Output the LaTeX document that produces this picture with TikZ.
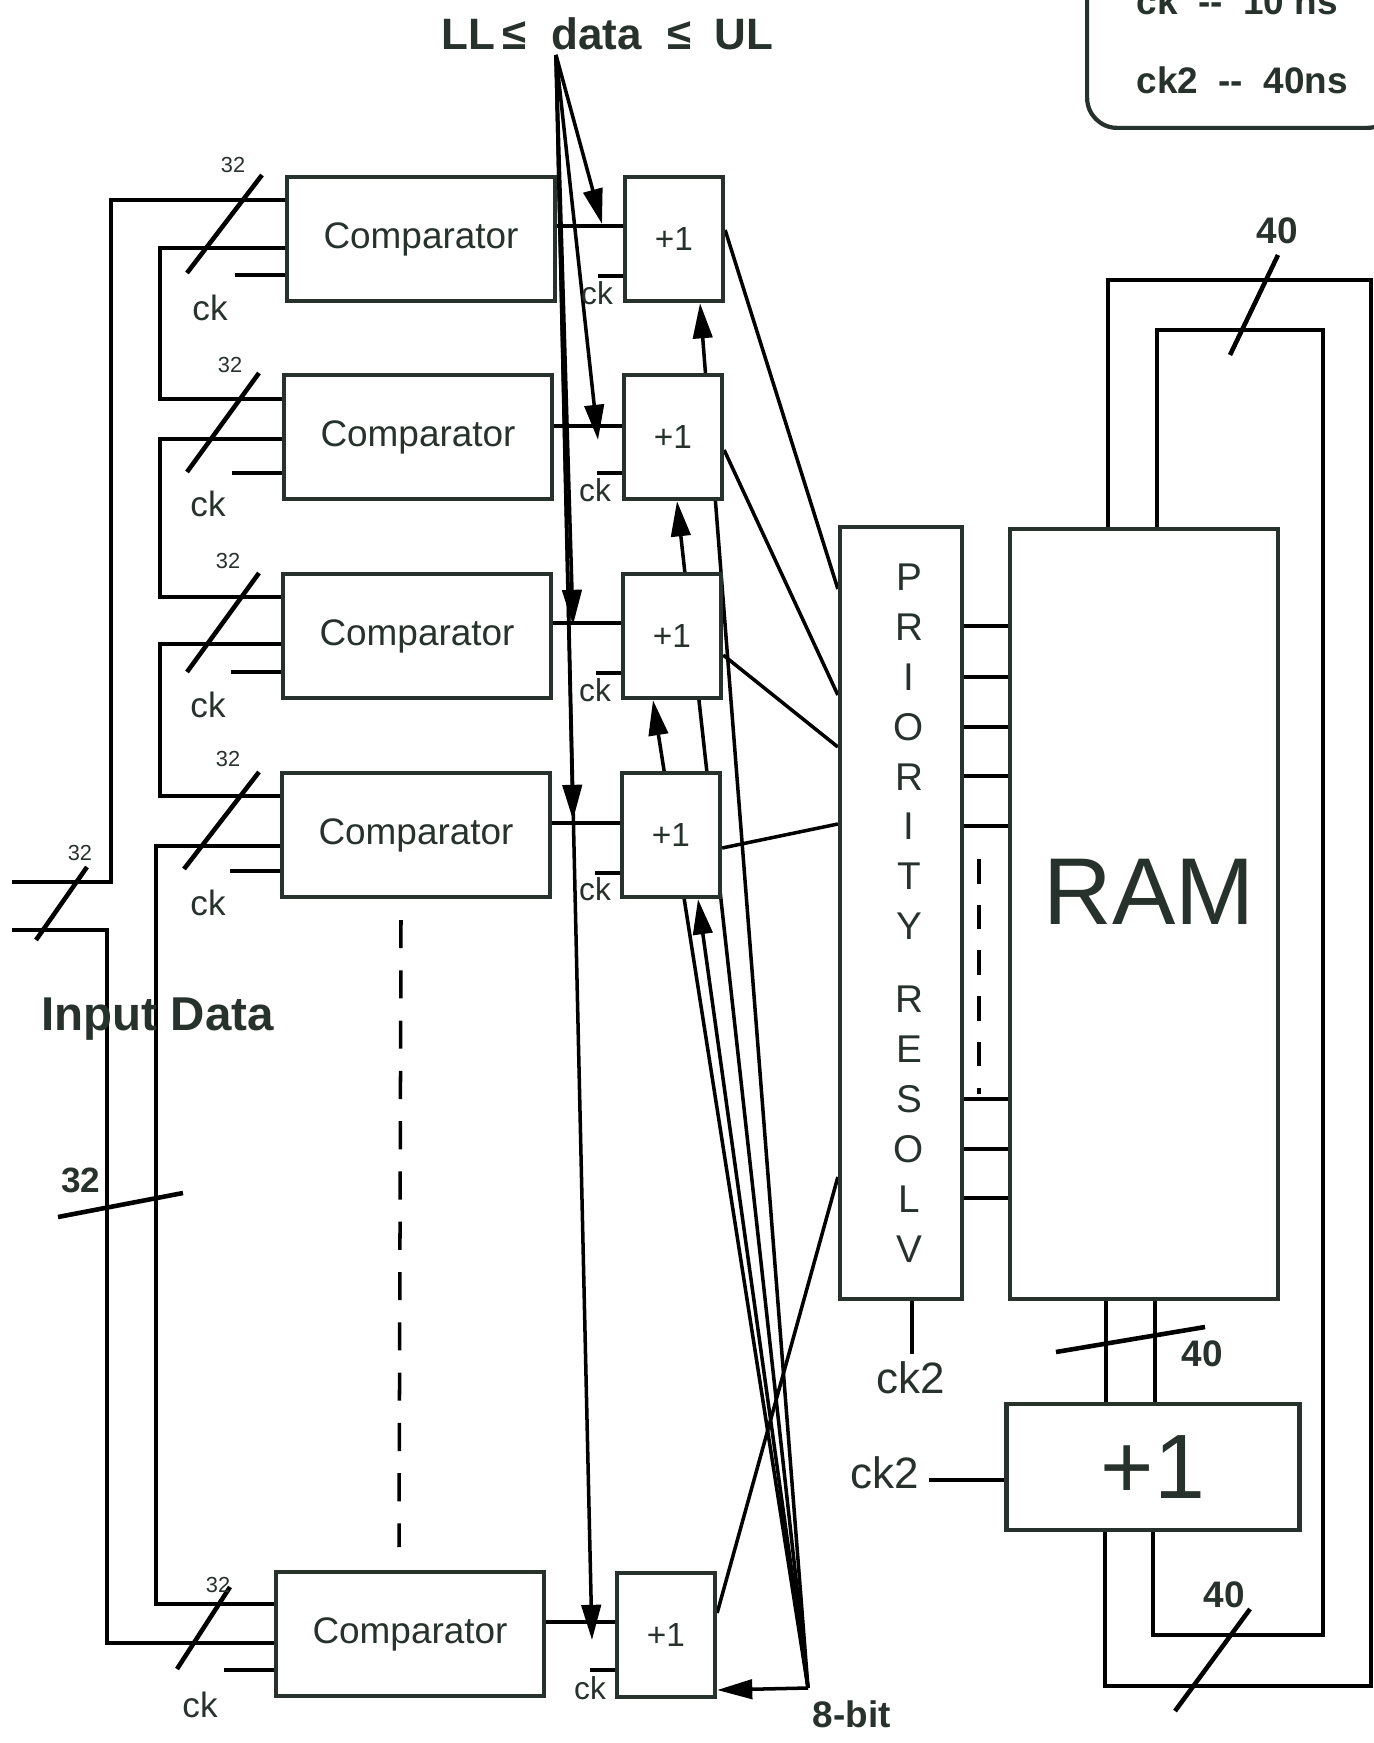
\documentclass[tikz,border=0pt]{standalone}
\usepackage{fontspec}
\setmainfont{Liberation Sans}
\usetikzlibrary{arrows.meta, backgrounds}
\definecolor{ink}{RGB}{40,50,45}

\begin{document}
\begin{tikzpicture}[
  x=0.01cm, y=-0.01cm, color=ink,
  cmpbox/.style={draw, fill=white, line width=1.2pt, minimum width=2.68cm, minimum height=1.24cm, inner sep=0pt, font=\fontsize{10.5}{12}\selectfont},
  incbox/.style={draw, fill=white, line width=1.2pt, minimum width=0.98cm, minimum height=1.24cm, inner sep=0pt, font=\fontsize{9.5}{11}\selectfont},
  wire/.style={line width=1pt},
  busmark/.style={line width=1.3pt},
  fan/.style={line width=1pt, -{Triangle[length=10pt, width=5.5pt]}},
  cklbl/.style={inner sep=0pt, font=\fontsize{10}{12}\selectfont},
  wlbl/.style={inner sep=0pt, font=\fontsize{6.2}{7}\selectfont},
  blbl/.style={inner sep=0pt, font=\bfseries\fontsize{10.5}{12}\selectfont}
]
  \useasboundingbox (0,0) rectangle (1374,1743);

  \node[cmpbox] (cmp1) at (421,239) {Comparator};
  \node[cmpbox] (cmp2) at (418,437) {Comparator};
  \node[cmpbox] (cmp3) at (417,636) {Comparator};
  \node[cmpbox] (cmp4) at (416,835) {Comparator};
  \node[cmpbox] (cmp5) at (410,1634) {Comparator};

  \node[incbox] (inc1) at (674,239) {+1};
  \node[incbox] (inc2) at (673,437) {+1};
  \node[incbox] (inc3) at (672,636) {+1};
  \node[incbox] (inc4) at (671,835) {+1};
  \node[incbox] (inc5) at (666,1635) {+1};

  \node[draw, fill=white, line width=1.2pt, minimum width=1.22cm, minimum height=7.71cm] (prio) at (901,913) {};
  \node[inner sep=0pt, align=center, font=\fontsize{11}{14.2}\selectfont] (priolbl) at (909,913)
    {P\\R\\I\\O\\R\\I\\T\\Y\\[6.5pt]R\\E\\S\\O\\L\\V};
  \node[draw, fill=white, line width=1.2pt, minimum width=2.68cm, minimum height=7.70cm] (ram) at (1144,914) {};
  \node[inner sep=0pt, font=\fontsize{27}{30}\selectfont] (ramlbl) at (1149,892) {RAM};
  \node[draw, fill=white, line width=1.2pt, minimum width=2.93cm, minimum height=1.26cm,
        font=\fontsize{26}{30}\selectfont] (incbig) at (1153,1467) {+1};

  \node[draw, line width=1.2pt, rounded corners=0.3cm, anchor=south west, align=left, inner xsep=14pt,
        inner ysep=9.6pt, minimum width=3.1cm, font=\bfseries\fontsize{10.5}{22.5}\selectfont] (legend)
    at (1085,130) {ck~~-{}-~~10 ns\\ck2~~-{}-~~40ns};

  \node[anchor=base west, inner sep=0pt, font=\bfseries\fontsize{12.5}{14}\selectfont] (limits) at (441,50)
    {LL\hspace{2pt}≤\hspace{7pt}data\hspace{7.5pt}≤\hspace{6.5pt}UL};
  \node[anchor=base west, inner sep=0pt, font=\bfseries\fontsize{13.5}{16}\selectfont] (indata) at (41,1030) {Input Data};
  \node[anchor=base west, blbl] (bits) at (812,1727) {8-bit};

  \node[cklbl] (ckc1) at (210,308) {ck};
  \node[cklbl] (ckc2) at (208,504) {ck};
  \node[cklbl] (ckc3) at (208,705) {ck};
  \node[cklbl] (ckc4) at (208,903) {ck};
  \node[cklbl] (ckc5) at (200,1705) {ck};
  \node[cklbl, font=\fontsize{9}{11}\selectfont] (cki1) at (597,293) {ck};
  \node[cklbl, font=\fontsize{9}{11}\selectfont] (cki2) at (595,490) {ck};
  \node[cklbl, font=\fontsize{9}{11}\selectfont] (cki3) at (595,690) {ck};
  \node[cklbl, font=\fontsize{9}{11}\selectfont] (cki4) at (595,889) {ck};
  \node[cklbl, font=\fontsize{9}{11}\selectfont] (cki5) at (590,1688) {ck};
  \node[cklbl, font=\fontsize{12.5}{14}\selectfont] (ckprio) at (911,1378) {ck2};
  \node[cklbl, font=\fontsize{12.5}{14}\selectfont] (ckbig) at (885,1473) {ck2};

  \node[wlbl] (w1) at (233,165) {32};
  \node[wlbl] (w2) at (230,365) {32};
  \node[wlbl] (w3) at (228,561) {32};
  \node[wlbl] (w4) at (228,759) {32};
  \node[wlbl] (w5) at (218,1585) {32};
  \node[wlbl] (win) at (80,853) {32};
  \node[blbl, font=\bfseries\fontsize{10}{12}\selectfont] (wbus) at (81,1180) {32};
  \node[blbl] (wtop) at (1277,231) {40};
  \node[blbl] (wmid) at (1202,1354) {40};
  \node[blbl] (wbot) at (1224,1595) {40};

  \coordinate (inA) at (12,882);
  \coordinate (inB) at (12,930);
  \coordinate (fanroot) at (556,55);
  \coordinate (t1) at (602,224);
  \coordinate (t2) at (598,440);
  \coordinate (t3) at (573,625);
  \coordinate (t4) at (573,820);
  \coordinate (t5) at (592,1640);
  \coordinate (apex) at (808,1688);

  \begin{scope}[on background layer]
    \fill[white] (0,0) rectangle (1374,1743);

    \draw[wire] (inA) -- (111,882) |- (cmp1.west |- 0,200);
    \draw[wire] (inB) -- (107,930) |- (cmp5.west |- 0,1643);
    \draw[wire] (cmp1.west |- 0,248) -| (160,399) -- (cmp2.west |- 0,399);
    \draw[wire] (cmp2.west |- 0,439) -| (160,597) -- (cmp3.west |- 0,597);
    \draw[wire] (cmp3.west |- 0,644) -| (160,796) -- (cmp4.west |- 0,796);
    \draw[wire] (cmp4.west |- 0,846) -| (156,1604) -- (cmp5.west |- 0,1604);

    \draw[wire] (cmp1.west |- 0,275) -- ++(-50,0) (cmp2.west |- 0,473) -- ++(-50,0)
                (cmp3.west |- 0,672) -- ++(-50,0) (cmp4.west |- 0,871) -- ++(-50,0)
                (cmp5.west |- 0,1670) -- ++(-50,0);
    \draw[wire] (cmp1.east |- 0,226) -- (inc1.west |- 0,226);
    \draw[wire] (cmp2.east |- 0,426) -- (inc2.west |- 0,426);
    \draw[wire] (cmp3.east |- 0,623) -- (inc3.west |- 0,623);
    \draw[wire] (cmp4.east |- 0,823) -- (inc4.west |- 0,823);
    \draw[wire] (cmp5.east |- 0,1622) -- (inc5.west |- 0,1622);
    \draw[wire] (inc1.west |- 0,276) -- ++(-25,0) (inc2.west |- 0,473) -- ++(-25,0)
                (inc3.west |- 0,673) -- ++(-25,0) (inc4.west |- 0,873) -- ++(-25,0)
                (inc5.west |- 0,1670) -- ++(-25,0);

    \draw[wire] (inc1.east |- 0,230) -- (prio.west |- 0,589);
    \draw[wire] (inc2.east |- 0,450) -- (prio.west |- 0,695);
    \draw[wire] (inc3.east |- 0,655) -- (prio.west |- 0,747);
    \draw[wire] (inc4.east |- 0,848) -- (prio.west |- 0,824);
    \draw[wire] (inc5.east |- 0,1613) -- (prio.west |- 0,1177);

    \draw[wire] (prio.east |- 0,626) -- (ram.west |- 0,626) (prio.east |- 0,677) -- (ram.west |- 0,677)
                (prio.east |- 0,727) -- (ram.west |- 0,727) (prio.east |- 0,776) -- (ram.west |- 0,776)
                (prio.east |- 0,826) -- (ram.west |- 0,826) (prio.east |- 0,1099) -- (ram.west |- 0,1099)
                (prio.east |- 0,1149) -- (ram.west |- 0,1149) (prio.east |- 0,1198) -- (ram.west |- 0,1198);
    \draw[wire, dash pattern=on 7pt off 6pt] (979,859) -- (979,1094);
    \draw[wire, dash pattern=on 8pt off 6.3pt] (401,920) -- (399,1547);

    \draw[wire] (prio.south -| 912,0) -- ++(0,53);
    \draw[wire] (incbig.west |- 0,1480) -- ++(-75,0);
    \draw[wire] (ram.south -| 1106,0) -- (incbig.north -| 1106,0) (ram.south -| 1155,0) -- (incbig.north -| 1155,0);
    \draw[wire] (incbig.south -| 1105,0) |- (1371,1686) |- (1108,280) -- (ram.north -| 1108,0);
    \draw[wire] (incbig.south -| 1153,0) |- (1323,1635) |- (1157,330) -- (ram.north -| 1157,0);

    \draw[busmark] (187,273) -- (262,175) (187,472) -- (259,373) (187,672) -- (259,573)
                   (184,869) -- (259,772) (177,1669) -- (230,1587) (36,940) -- (87,867)
                   (58,1217) -- (183,1193);
    \draw[busmark] (1230,355) -- (1278,255) (1056,1352) -- (1205,1327) (1175,1711) -- (1250,1609);

    \draw[fan] (fanroot) -- (t1);
    \draw[fan] (fanroot) -- (t2);
    \draw[fan] (fanroot) -- (t3);
    \draw[fan] (fanroot) -- (t4);
    \draw[fan] (fanroot) -- (t5);

    \draw[fan] (apex) -- (inc1.south -| 700,0);
    \draw[fan] (apex) -- (inc2.south -| 677,0);
    \draw[fan] (apex) -- (inc3.south -| 653,0);
    \draw[fan] (apex) -- (inc4.south -| 698,0);
    \draw[fan] (apex) -- (inc5.east |- 0,1690);
  \end{scope}
\end{tikzpicture}
\end{document}
